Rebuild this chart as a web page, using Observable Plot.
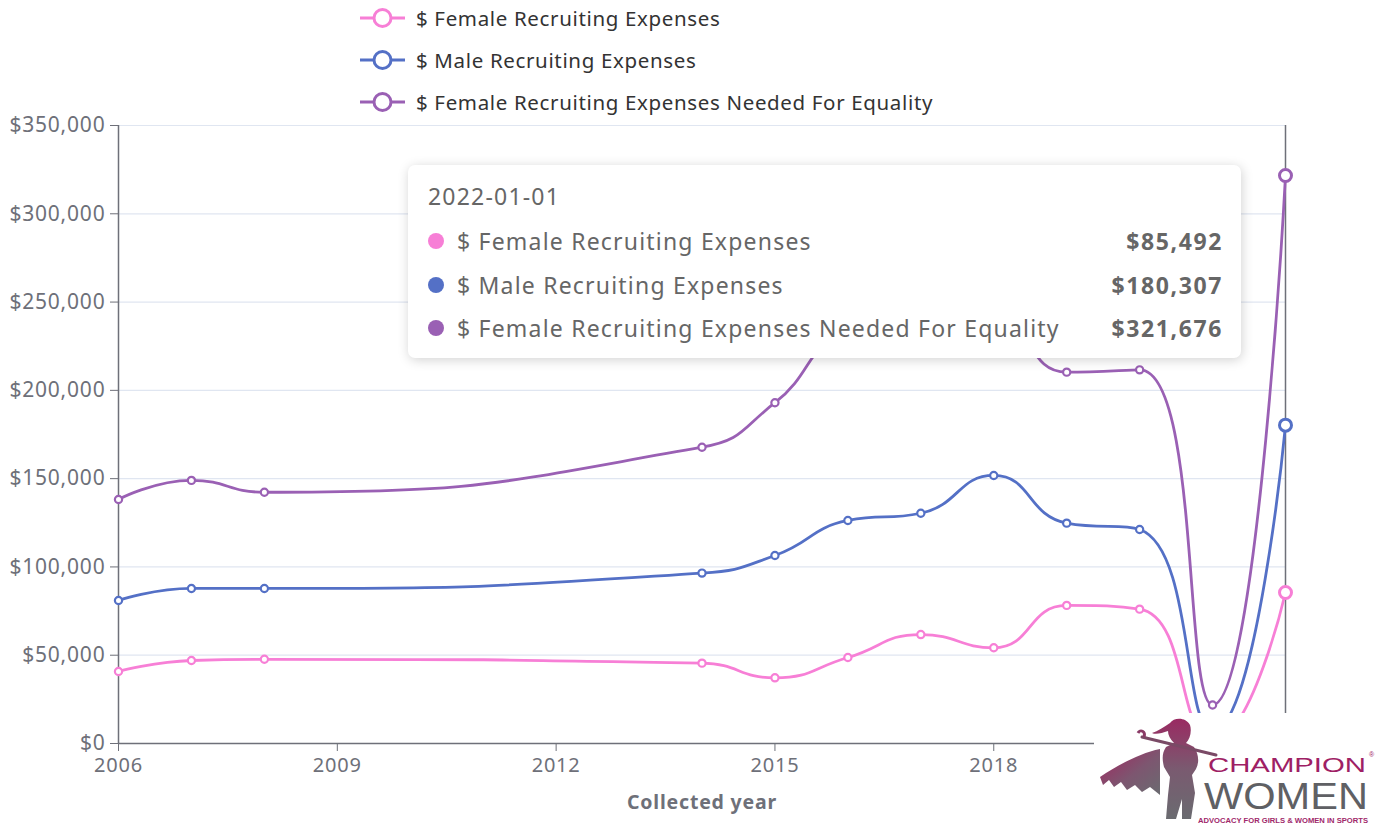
<!DOCTYPE html>
<html>
<head>
<meta charset="utf-8">
<script src="https://cdn.jsdelivr.net/npm/d3@7"></script>
<script src="https://cdn.jsdelivr.net/npm/@observablehq/plot@0.6"></script>
<style>
  html, body { margin: 0; padding: 0; background: #fff; }
  body { width: 1385px; height: 825px; position: relative; overflow: hidden; font-family: "Noto Sans", "Open Sans", sans-serif; }
  #chart { position: absolute; left: 0; top: 0; }
  #chart svg text { letter-spacing: 0.8px; }
  .legend-row { position: absolute; left: 358px; height: 30px; display: flex; align-items: center; font-size: 20.5px; letter-spacing: 0.65px; color: #333; white-space: nowrap; }
  .legend-row svg { margin-right: 8px; }
  #tooltip { position: absolute; left: 408px; top: 165px; width: 833px; height: 193px; background: #fff; border-radius: 7px; box-shadow: 1px 2px 12px rgba(0,0,0,0.18); color: #666; font-size: 23px; letter-spacing: 1.2px; }
  #tooltip .title { position: absolute; left: 20px; top: 15px; }
  #tooltip .row { position: absolute; left: 20px; right: 18px; height: 32px; display: flex; align-items: center; }
  #tooltip .dot { width: 16px; height: 16px; border-radius: 50%; margin-right: 13px; }
  #tooltip .val { margin-left: auto; font-weight: 700; letter-spacing: 1.6px; }
  #logo { position: absolute; left: 1094px; top: 713px; width: 291px; height: 112px; background: #fff; }
</style>
</head>
<body>
<div id="chart"></div>
<div id="legend"></div>
<div id="tooltip"></div>
<div id="logo"></div>
<script>
// ---- data ----
const years = [2006, 2007, 2008, 2014, 2015, 2016, 2017, 2018, 2019, 2020, 2021, 2022];
const femaleExpenses = [40800, 47000, 47700, 45500, 37200, 48700, 61700, 54200, 78200, 76100, 1500, 85492];
const maleExpenses = [81000, 87800, 87800, 96500, 106500, 126300, 130400, 151800, 124800, 121200, 7000, 180307];
const equalityExpenses = [138200, 149000, 142300, 167800, 193000, 232000, 236000, 240000, 210300, 211600, 21800, 321676];
const seriesNames = ["$ Female Recruiting Expenses", "$ Male Recruiting Expenses", "$ Female Recruiting Expenses Needed For Equality"];
const seriesColors = ["#f77fd6", "#5470c6", "#9a60b4"];
const yTicks = [0, 50000, 100000, 150000, 200000, 250000, 300000, 350000];
const xTicks = [2006, 2009, 2012, 2015, 2018];
const hoverYear = 2022;
const tooltipTitle = "2022-01-01";
const xLabel = "Collected year";

const seriesValues = [femaleExpenses, maleExpenses, equalityExpenses];
const rows = [];
seriesValues.forEach((vals, s) => {
  years.forEach((yr, i) => rows.push({ year: yr, value: vals[i], series: seriesNames[s] }));
});
const money = d => "$" + d3.format(",")(d);

// ECharts-style smooth curve (control points clamped between neighbours)
function SmoothCurve(context) { this._context = context; }
SmoothCurve.prototype = {
  areaStart() { this._line = 0; },
  areaEnd() { this._line = NaN; },
  lineStart() { this._pts = []; },
  point(x, y) { this._pts.push([+x, +y]); },
  lineEnd() {
    const p = this._pts, n = p.length, s = 0.5, ctx = this._context;
    if (!n) return;
    const clamp = (v, a, b) => Math.max(Math.min(v, Math.max(a, b)), Math.min(a, b));
    let px = p[0][0], py = p[0][1];
    ctx.moveTo(px, py);
    let cx0 = px, cy0 = py;
    for (let i = 1; i < n; i++) {
      const x = p[i][0], y = p[i][1];
      let cx1, cy1, ncx0 = x, ncy0 = y;
      if (i === n - 1) { cx1 = x; cy1 = y; }
      else {
        const nx = p[i + 1][0], ny = p[i + 1][1];
        let vx = nx - px, vy = ny - py;
        const lp = Math.hypot(x - px, y - py), ln = Math.hypot(nx - x, ny - y);
        const r = ln / (ln + lp);
        ncx0 = clamp(x + vx * s * r, nx, x);
        ncy0 = clamp(y + vy * s * r, ny, y);
        vx = ncx0 - x; vy = ncy0 - y;
        cx1 = clamp(x - vx * lp / ln, px, x);
        cy1 = clamp(y - vy * lp / ln, py, y);
        vx = x - cx1; vy = y - cy1;
        ncx0 = x + vx * ln / lp; ncy0 = y + vy * ln / lp;
      }
      ctx.bezierCurveTo(cx0, cy0, cx1, cy1, x, y);
      cx0 = ncx0; cy0 = ncy0; px = x; py = y;
    }
  }
};
const smoothCurve = ctx => new SmoothCurve(ctx);

const plot = Plot.plot({
  width: 1385,
  height: 825,
  marginLeft: 118,
  marginRight: 100,
  marginTop: 125,
  marginBottom: 82,
  style: { fontFamily: "Noto Sans, sans-serif", color: "#6E7079", background: "transparent" },
  x: { domain: [2006, 2022] },
  y: { domain: [0, 350000] },
  color: { domain: seriesNames, range: seriesColors },
  marks: [
    Plot.gridY(yTicks, { stroke: "#E0E6F1", strokeOpacity: 1, strokeWidth: 1.2 }),
    Plot.ruleY([0], { stroke: "#6E7079", strokeWidth: 1.5 }),
    Plot.ruleX([2006], { stroke: "#6E7079", strokeWidth: 1.5 }),
    Plot.axisY({ ticks: yTicks, tickFormat: money, tickSize: 8, tickPadding: 5, fontSize: 21, stroke: "#6E7079", fill: "#6E7079", label: null }),
    Plot.axisX({ ticks: xTicks, tickFormat: d => String(d), tickSize: 8, tickPadding: 6, fontSize: 20, stroke: "#6E7079", fill: "#6E7079", label: null }),
    Plot.text([xLabel], { frameAnchor: "bottom", dy: 65, text: d => d, fontSize: 19.5, fontWeight: "bold", fill: "#6E7079" }),
    Plot.ruleX([hoverYear], { y1: 0, y2: 350000, stroke: "#6E7079", strokeWidth: 1.5 }),
    Plot.line(rows, { x: "year", y: "value", z: "series", stroke: "series", curve: smoothCurve, strokeWidth: 2.8 }),
    Plot.dot(rows.filter(d => d.year !== hoverYear), { x: "year", y: "value", stroke: "series", fill: "white", r: 3.6, strokeWidth: 2.2 }),
    Plot.dot(rows.filter(d => d.year === hoverYear), { x: "year", y: "value", stroke: "series", fill: "white", r: 6, strokeWidth: 3 })
  ]
});
document.getElementById("chart").appendChild(plot);

// ---- legend ----
const legend = document.getElementById("legend");
const legendTops = [3, 45, 87];
seriesNames.forEach((name, i) => {
  const row = document.createElement("div");
  row.className = "legend-row";
  row.style.top = legendTops[i] + "px";
  row.innerHTML = `<svg width="50" height="30"><line x1="2" y1="15" x2="47" y2="15" stroke="${seriesColors[i]}" stroke-width="3"/><circle cx="24.5" cy="15" r="8.5" fill="white" stroke="${seriesColors[i]}" stroke-width="3"/></svg><span>${name}</span>`;
  legend.appendChild(row);
});

// ---- tooltip ----
const tip = document.getElementById("tooltip");
const idx = years.indexOf(hoverYear);
let html = `<div class="title">${tooltipTitle}</div>`;
const rowTops = [60, 104, 147];
seriesNames.forEach((name, i) => {
  html += `<div class="row" style="top:${rowTops[i]}px"><div class="dot" style="background:${seriesColors[i]}"></div><span>${name}</span><span class="val">${money(seriesValues[i][idx])}</span></div>`;
});
tip.innerHTML = html;

// ---- logo ----
document.getElementById("logo").innerHTML = `
<svg width="291" height="112" viewBox="0 0 291 112">
  <defs>
    <linearGradient id="lg" x1="0" y1="0" x2="1" y2="1">
      <stop offset="0" stop-color="#a3245f"/>
      <stop offset="0.55" stop-color="#7d5670"/>
      <stop offset="1" stop-color="#6a6b70"/>
    </linearGradient>
    <linearGradient id="lg2" x1="0" y1="0" x2="0" y2="1">
      <stop offset="0" stop-color="#9a2a62"/>
      <stop offset="0.5" stop-color="#7a5a70"/>
      <stop offset="1" stop-color="#6a6b70"/>
    </linearGradient>
  </defs>
  <path d="M66,36 C46,40 24,52 6,64 L9,72 L15,67 L20,74 L27,69 L33,77 L41,72 L48,79 L56,74 L66,82 Z" fill="url(#lg)"/>
  <path d="M76,10 C80,4 92,4 96,12 C98,18 96,26 92,30 L100,34 C104,40 106,48 102,56 L98,62 L101,80 L97,106 L88,106 L88,86 L82,106 L72,106 L74,82 L76,64 L70,54 C68,46 68,40 72,34 L80,30 C76,26 74,22 74,18 C68,20 62,22 58,20 C64,18 70,14 76,10 Z" fill="url(#lg2)"/>
  <path d="M48,24 L122,42" stroke="#7a4a66" stroke-width="3" stroke-linecap="round"/>
  <path d="M44,20 C46,16 52,18 50,24" stroke="#8a3a66" stroke-width="3" fill="none"/>
  <text x="114" y="59" font-family="Liberation Sans, sans-serif" font-size="20" fill="#9e2064" textLength="158" lengthAdjust="spacingAndGlyphs">CHAMPION</text>
  <text x="275" y="44" font-family="Liberation Sans, sans-serif" font-size="7" fill="#9e2064">®</text>
  <text x="110" y="96" font-family="Liberation Sans, sans-serif" font-size="36" fill="#5f6064" textLength="164" lengthAdjust="spacingAndGlyphs">WOMEN</text>
  <text x="104" y="110" font-family="Liberation Sans, sans-serif" font-size="7" font-weight="700" fill="#a0286a" textLength="170" lengthAdjust="spacingAndGlyphs">ADVOCACY FOR GIRLS &amp; WOMEN IN SPORTS</text>
</svg>`;
</script>
</body>
</html>
